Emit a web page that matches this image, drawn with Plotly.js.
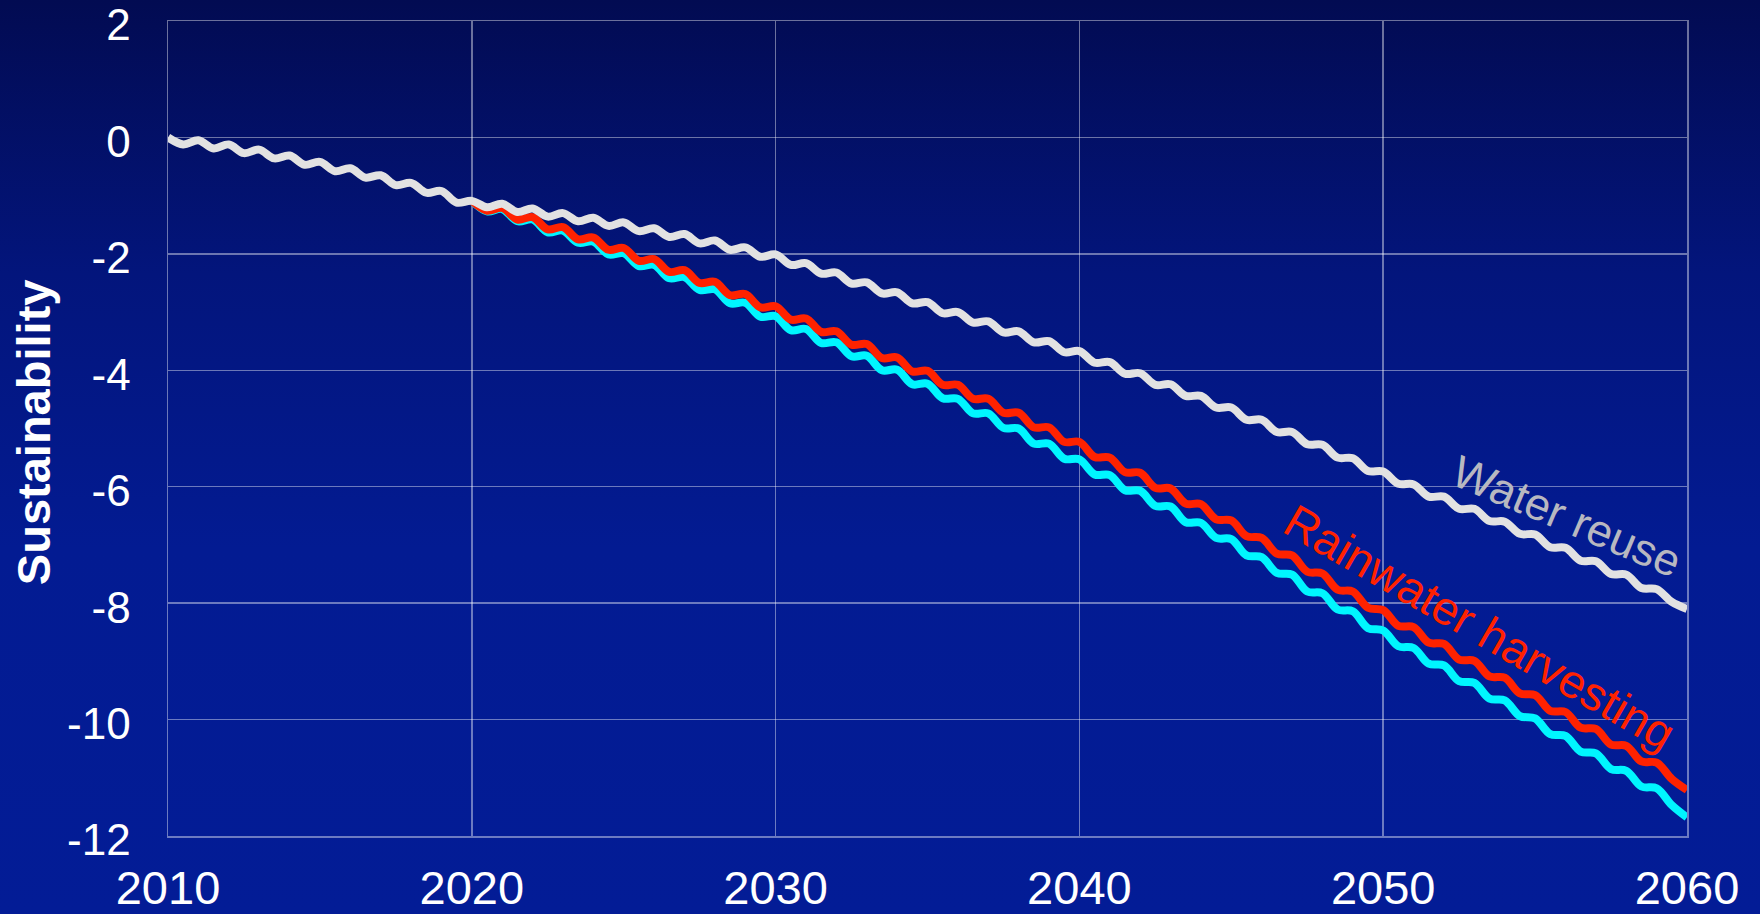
<!DOCTYPE html>
<html>
<head>
<meta charset="utf-8">
<script src="https://cdn.plot.ly/plotly-3.0.1.min.js"></script>
<style>
  html, body { margin: 0; padding: 0; }
  body {
    width: 1760px; height: 914px; overflow: hidden;
    background: linear-gradient(to bottom, #020b52 0%, #03157c 30%, #031b92 60%, #031c96 100%);
  }
  #chart { width: 1760px; height: 914px; }
</style>
</head>
<body>
<div id="chart"></div>
<script>
// Half-yearly samples; water reuse runs from 2010, the other two from 2020.
const startAll = 2010;
const startScenario = 2020;
const step = 0.5;

const waterReuse = [
  0.00, -0.12, -0.05, -0.19, -0.12, -0.27, -0.21, -0.36, -0.31, -0.47,
  -0.42, -0.58, -0.53, -0.69, -0.65, -0.82, -0.78, -0.95, -0.92, -1.12,
  -1.09, -1.20, -1.14, -1.28, -1.22, -1.36, -1.30, -1.44, -1.38, -1.52,
  -1.46, -1.61, -1.56, -1.71, -1.66, -1.82, -1.77, -1.93, -1.89, -2.05,
  -2.01, -2.19, -2.16, -2.34, -2.32, -2.51, -2.49, -2.68, -2.66, -2.85,
  -2.83, -3.02, -3.00, -3.18, -3.16, -3.35, -3.33, -3.52, -3.50, -3.69,
  -3.67, -3.87, -3.86, -4.06, -4.05, -4.25, -4.24, -4.44, -4.44, -4.64,
  -4.64, -4.85, -4.85, -5.06, -5.06, -5.27, -5.28, -5.50, -5.51, -5.73,
  -5.74, -5.95, -5.96, -6.17, -6.17, -6.38, -6.38, -6.59, -6.60, -6.81,
  -6.82, -7.04, -7.05, -7.27, -7.28, -7.50, -7.51, -7.74, -7.76, -7.98,
  -8.10
];

const rainwaterHarvesting = [
  -1.09, -1.26, -1.21, -1.41, -1.37, -1.58, -1.54, -1.75, -1.72, -1.93,
  -1.90, -2.12, -2.09, -2.31, -2.28, -2.50, -2.48, -2.71, -2.69, -2.92,
  -2.90, -3.13, -3.11, -3.34, -3.33, -3.56, -3.55, -3.79, -3.78, -4.02,
  -4.01, -4.25, -4.25, -4.49, -4.49, -4.73, -4.73, -4.98, -4.98, -5.23,
  -5.23, -5.49, -5.50, -5.75, -5.76, -6.02, -6.03, -6.29, -6.30, -6.56,
  -6.58, -6.85, -6.88, -7.15, -7.18, -7.46, -7.49, -7.77, -7.80, -8.08,
  -8.12, -8.39, -8.41, -8.68, -8.70, -8.97, -8.99, -9.26, -9.28, -9.55,
  -9.58, -9.85, -9.87, -10.14, -10.16, -10.43, -10.45, -10.72, -10.74, -11.02,
  -11.21
];

const baseline = [
  -1.09, -1.27, -1.23, -1.44, -1.41, -1.63, -1.60, -1.81, -1.79, -2.01,
  -1.99, -2.21, -2.19, -2.42, -2.40, -2.62, -2.61, -2.85, -2.84, -3.08,
  -3.07, -3.31, -3.29, -3.53, -3.52, -3.76, -3.75, -4.00, -3.99, -4.24,
  -4.23, -4.48, -4.49, -4.74, -4.74, -4.99, -5.00, -5.26, -5.26, -5.52,
  -5.53, -5.79, -5.80, -6.06, -6.07, -6.33, -6.34, -6.61, -6.62, -6.88,
  -6.90, -7.18, -7.21, -7.48, -7.51, -7.80, -7.83, -8.11, -8.14, -8.43,
  -8.47, -8.74, -8.77, -9.04, -9.07, -9.34, -9.37, -9.64, -9.67, -9.94,
  -9.98, -10.25, -10.28, -10.55, -10.58, -10.85, -10.88, -11.15, -11.18, -11.47,
  -11.68
];

const yearTicks = [2010, 2020, 2030, 2040, 2050, 2060];
const valueTicks = [-12, -10, -8, -6, -4, -2, 0, 2];

const gridColor = 'rgba(255,255,255,0.42)';
const font = '"Liberation Sans", Arial, sans-serif';

function series(values, x0, color) {
  return {
    type: 'scatter', mode: 'lines',
    y: values, x0: x0, dx: step,
    line: { color: color, width: 8, shape: 'spline', smoothing: 1 },
    cliponaxis: false, hoverinfo: 'skip'
  };
}

const traces = [
  Object.assign(series(baseline, startScenario, '#00f6ff'), { name: 'Baseline' }),
  Object.assign(series(rainwaterHarvesting, startScenario, '#ff2200'), { name: 'Rainwater harvesting' }),
  Object.assign(series(waterReuse, startAll, '#e2e2e2'), { name: 'Water reuse' })
];

const layout = {
  width: 1760, height: 914, autosize: false,
  margin: { l: 168, r: 73, t: 21, b: 78, pad: 0 },
  paper_bgcolor: 'rgba(0,0,0,0)',
  plot_bgcolor: 'rgba(0,0,0,0)',
  showlegend: false,
  hovermode: false,
  font: { family: font, color: '#ffffff' },
  xaxis: {
    range: [2010, 2060], tickvals: yearTicks, ticktext: yearTicks.map(String),
    showgrid: true, gridcolor: gridColor, gridwidth: 1.5,
    showline: true, mirror: true, linecolor: gridColor, linewidth: 1.5,
    zeroline: false, ticks: 'outside', ticklen: 10, tickcolor: 'rgba(0,0,0,0)',
    ticklabeloverflow: 'allow',
    tickfont: { family: font, size: 47, color: '#ffffff' }, fixedrange: true
  },
  yaxis: {
    range: [-12, 2], tickvals: valueTicks, ticktext: valueTicks.map(String),
    showgrid: true, gridcolor: gridColor, gridwidth: 1.5,
    showline: true, mirror: true, linecolor: gridColor, linewidth: 1.5,
    zeroline: false, ticks: 'outside', ticklen: 27, tickcolor: 'rgba(0,0,0,0)',
    ticklabeloverflow: 'allow', ticklabelshift: 4,
    tickfont: { family: font, size: 44, color: '#ffffff' }, fixedrange: true
  },
  annotations: [
    {
      xref: 'paper', yref: 'paper', x: -0.0885, y: 0.495,
      xanchor: 'center', yanchor: 'middle', textangle: -90, showarrow: false,
      text: '<b>Sustainability</b>',
      font: { family: font, size: 47, color: '#ffffff' }
    },
    {
      xref: 'x', yref: 'y', x: 2056.04, y: -6.52,
      xanchor: 'center', yanchor: 'middle', textangle: 23, showarrow: false,
      text: 'Water reuse',
      font: { family: font, size: 45, color: '#b8b8c0' }
    },
    {
      xref: 'x', yref: 'y', x: 2053.2, y: -8.42,
      xanchor: 'center', yanchor: 'middle', textangle: 30, showarrow: false,
      text: 'Rainwater harvesting',
      font: { family: font, size: 47, color: '#ff2200' }
    }
  ]
};

Plotly.newPlot('chart', traces, layout, { staticPlot: true, displayModeBar: false });
</script>
</body>
</html>
